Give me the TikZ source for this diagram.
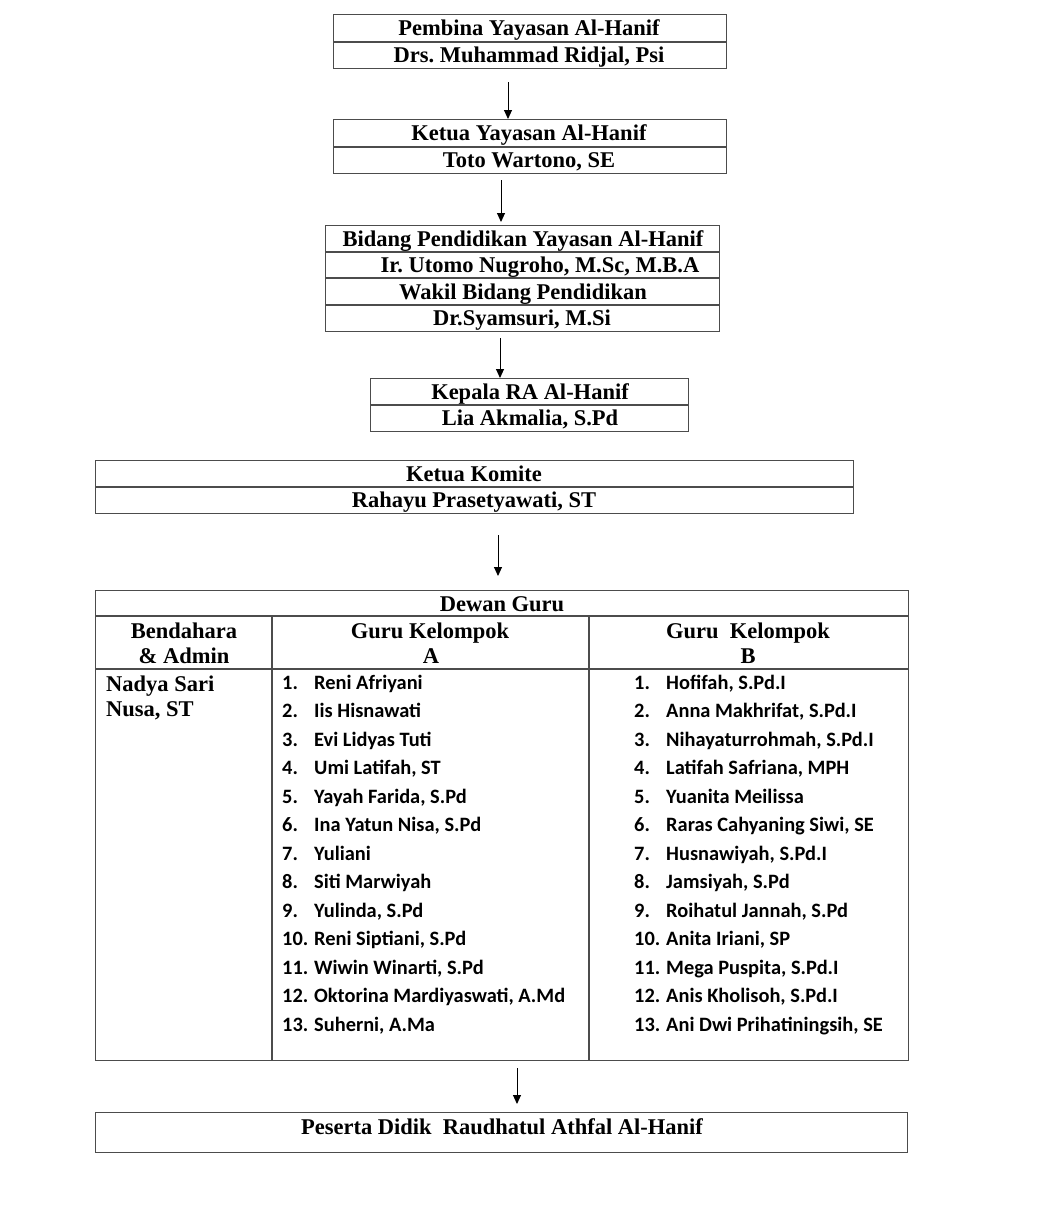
\documentclass[tikz,border=0pt]{standalone}
\usepackage{fontspec}
\setmainfont{Liberation Serif}
\newfontfamily\calfont{Carlito}
\usetikzlibrary{arrows.meta}
\frenchspacing
\tikzset{
  frame/.style={draw=black!70, line width=1.2pt},
  rule/.style={draw=black!70, line width=1.2pt},
  arr/.style={draw=black, line width=1pt, -{Triangle[width=8pt,length=9pt]}},
  hd/.style={font=\fontsize{22.5}{26}\selectfont\bfseries, inner sep=0pt, anchor=base},
  lt/.style={font=\calfont\fontsize{20.4}{24}\selectfont\bfseries, inner sep=0pt, anchor=base west},
}
\newcommand{\lrow}[5]{%
  \node[lt] (#1n) at (#2,#4) {#3.};
  \node[lt] (#1t) at (#2+32,#4) {#5};
}
\begin{document}
\begin{tikzpicture}[x=1pt,y=-1pt]
\useasboundingbox (0,0) rectangle (1041,1229);
\fill[white] (0,0) rectangle (1041,1229);

% Box 1
\node[frame, anchor=north west, minimum width=393pt, minimum height=54pt, inner sep=0pt] (b1) at (333,14) {};
\draw[rule] (333,42) -- (726,42);
\node[hd] (b1a) at (529,35.5) {Pembina Yayasan Al-Hanif};
\node[hd] (b1b) at (529,62) {Drs. Muhammad Ridjal, Psi};

% Box 2
\node[frame, anchor=north west, minimum width=393pt, minimum height=54pt, inner sep=0pt] (b2) at (333,119) {};
\draw[rule] (333,147) -- (726,147);
\node[hd] (b2a) at (529,140.5) {Ketua Yayasan Al-Hanif};
\node[hd] (b2b) at (529,167) {Toto Wartono, SE};

% Box 3
\node[frame, anchor=north west, minimum width=394pt, minimum height=106pt, inner sep=0pt] (b3) at (325,225) {};
\draw[rule] (325,252) -- (719,252);
\draw[rule] (325,278) -- (719,278);
\draw[rule] (325,305) -- (719,305);
\node[hd] (b3a) at (523,246) {Bidang Pendidikan Yayasan Al-Hanif};
\node[hd] (b3b) at (540,272) {Ir. Utomo Nugroho, M.Sc, M.B.A};
\node[hd] (b3c) at (523,299) {Wakil Bidang Pendidikan};
\node[hd] (b3d) at (522,325) {Dr.Syamsuri, M.Si};

% Box 4
\node[frame, anchor=north west, minimum width=318pt, minimum height=53pt, inner sep=0pt] (b4) at (370,378) {};
\draw[rule] (370,405) -- (688,405);
\node[hd] (b4a) at (530,399) {Kepala RA Al-Hanif};
\node[hd] (b4b) at (530,425) {Lia Akmalia, S.Pd};

% Box 5
\node[frame, anchor=north west, minimum width=758pt, minimum height=53pt, inner sep=0pt] (b5) at (95,460) {};
\draw[rule] (95,487) -- (853,487);
\node[hd] (b5a) at (474,481) {Ketua Komite};
\node[hd] (b5b) at (474,507) {Rahayu Prasetyawati, ST};

% Dewan Guru table
\node[frame, anchor=north west, minimum width=813pt, minimum height=470pt, inner sep=0pt] (tg) at (95,590) {};
\draw[rule] (95,616) -- (908,616);
\draw[rule] (95,669) -- (908,669);
\draw[rule] (272,616) -- (272,1060);
\draw[rule] (589,616) -- (589,1060);
\node[hd] (tgh) at (502,611) {Dewan Guru};
\node[hd] (c1a) at (184,638.5) {Bendahara};
\node[hd] (c1b) at (184,663.5) {\& Admin};
\node[hd] (c2a) at (430,638.5) {Guru Kelompok};
\node[hd] (c2b) at (431,663.5) {A};
\node[hd] (c3a) at (748,638.5) {Guru\ \ Kelompok};
\node[hd] (c3b) at (748,663.5) {B};
\node[hd, anchor=base west] (nd1) at (106,691) {Nadya Sari};
\node[hd, anchor=base west] (nd2) at (106,716) {Nusa, ST};

\lrow{a1}{282}{1}{689}{Reni Afriyani}
\lrow{a2}{282}{2}{717.5}{Iis Hisnawati}
\lrow{a3}{282}{3}{746}{Evi Lidyas Tuti}
\lrow{a4}{282}{4}{774.5}{Umi Latifah, ST}
\lrow{a5}{282}{5}{803}{Yayah Farida, S.Pd}
\lrow{a6}{282}{6}{831.5}{Ina Yatun Nisa, S.Pd}
\lrow{a7}{282}{7}{860}{Yuliani}
\lrow{a8}{282}{8}{888.5}{Siti Marwiyah}
\lrow{a9}{282}{9}{917}{Yulinda, S.Pd}
\lrow{a10}{282}{10}{945.5}{Reni Siptiani, S.Pd}
\lrow{a11}{282}{11}{974}{Wiwin Winarti, S.Pd}
\lrow{a12}{282}{12}{1002.5}{Oktorina Mardiyaswati, A.Md}
\lrow{a13}{282}{13}{1031}{Suherni, A.Ma}

\lrow{b1}{634}{1}{689}{Hofifah, S.Pd.I}
\lrow{b2}{634}{2}{717.5}{Anna Makhrifat, S.Pd.I}
\lrow{b3}{634}{3}{746}{Nihayaturrohmah, S.Pd.I}
\lrow{b4}{634}{4}{774.5}{Latifah Safriana, MPH}
\lrow{b5}{634}{5}{803}{Yuanita Meilissa}
\lrow{b6}{634}{6}{831.5}{Raras Cahyaning Siwi, SE}
\lrow{b7}{634}{7}{860}{Husnawiyah, S.Pd.I}
\lrow{b8}{634}{8}{888.5}{Jamsiyah, S.Pd}
\lrow{b9}{634}{9}{917}{Roihatul Jannah, S.Pd}
\lrow{b10}{634}{10}{945.5}{Anita Iriani, SP}
\lrow{b11}{634}{11}{974}{Mega Puspita, S.Pd.I}
\lrow{b12}{634}{12}{1002.5}{Anis Kholisoh, S.Pd.I}
\lrow{b13}{634}{13}{1031}{Ani Dwi Prihatiningsih, SE}

% Peserta
\node[frame, anchor=north west, minimum width=812pt, minimum height=40pt, inner sep=0pt] (b6) at (95,1112) {};
\node[hd] (b6a) at (502,1134) {Peserta Didik\ \ Raudhatul Athfal Al-Hanif};

% Arrows
\coordinate (s1) at (508,82);
\coordinate (s2) at (501,180);
\coordinate (s3) at (500,338);
\coordinate (s4) at (498,535);
\coordinate (e4) at (498,576);
\coordinate (s5) at (517,1068);
\coordinate (e5) at (517,1104);
\draw[arr] (s1) -- (s1 |- b2.north);
\draw[arr] (s2) -- ([yshift=3pt]s2 |- b3.north);
\draw[arr] (s3) -- (s3 |- b4.north);
\draw[arr] (s4) -- (e4);
\draw[arr] (s5) -- (e5);
\end{tikzpicture}
\end{document}
